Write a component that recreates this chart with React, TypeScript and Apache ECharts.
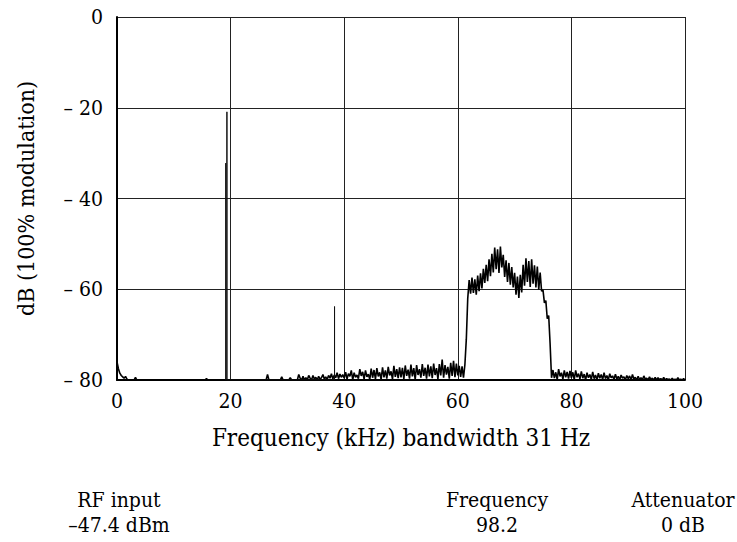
import React, { useEffect, useRef } from "react";
import * as echarts from "echarts";

// Spectrum trace, one value every freqStep kHz from 0 to 100 kHz (dB re 100% modulation)
const freqStep = 0.25;
const spectrumDb = [
  // 0 - 4.75
  -76, -77.5, -78.5, -79, -79.3, -79.6, -79.2, -79.8, -80, -80, -80, -80, -80, -79.4, -80, -80, -80, -80, -80, -80,
  // 5 - 9.75
  -80, -80, -80, -80, -80, -80, -80, -80, -80, -80, -80, -80, -80, -80, -80, -80, -80, -80, -80, -80,
  // 10 - 14.75
  -80, -80, -80, -80, -80, -80, -80, -80, -80, -80, -80, -80, -80, -80, -80, -80, -80, -80, -80, -80,
  // 15 - 19.75
  -80, -80, -80, -79.7, -80, -80, -80, -80, -80, -80, -80, -80, -80, -80, -80, -80, -80, -80, -80, -80,
  // 20 - 24.75
  -80, -80, -80, -80, -80, -80, -80, -80, -80, -80, -80, -80, -80, -80, -80, -80, -80, -80, -80, -80,
  // 25 - 29.75
  -80, -80, -80, -80, -80, -80, -78.8, -80, -80, -80, -80, -80, -80, -80, -80, -80, -79.3, -80, -80, -80,
  // 30 - 34.75
  -80, -80, -79.5, -80, -80, -80, -80, -80, -78.8, -79.6, -80, -79.2, -80, -79.5, -80, -79, -79.6, -80, -79, -79.8,
  // 35 - 39.75
  -79.4, -80, -79.2, -79.8, -79.5, -78.8, -79.8, -79.3, -79.9, -79, -79.6, -78.6, -79.8, -78.9, -79.5, -78.4, -79.7, -78.7, -79.4, -78.8,
  // 40 - 44.75
  -79.6, -78.3, -79.8, -78.6, -79.2, -77.9, -79.9, -78.4, -79.4, -78.9, -79.7, -77.6, -79.1, -78.2, -79.8, -77.9, -79.3, -78.7, -79.9, -77.5,
  // 45 - 49.75
  -79.5, -77.8, -79.8, -77.4, -79.2, -78.3, -79.9, -77.2, -79.4, -77.9, -79.7, -77.1, -79, -78.1, -79.8, -76.9, -79.3, -77.6, -79.6, -77.2,
  // 50 - 54.75
  -79.4, -77.3, -79.8, -76.8, -79.1, -77.7, -79.7, -76.6, -79.2, -77.4, -79.9, -76.7, -78.9, -77.6, -79.5, -76.5, -79.1, -77.3, -79.7, -76.6,
  // 55 - 59.75
  -79.2, -77, -79.6, -76.4, -78.9, -77.4, -79.8, -76.5, -79, -75.5, -79.5, -76.7, -78.8, -77.1, -79.7, -76.2, -79.1, -75.8, -79.4, -76.4,
  // 60 - 64.75
  -79, -76.9, -79.3, -77, -79.5, -76.6, -71, -62, -58, -61, -57.4, -60.8, -57.8, -61.2, -57, -60.4, -56.5, -59.8, -55.5, -58.6,
  // 65 - 69.75
  -54.6, -58.2, -53.4, -57.1, -52.2, -56.3, -50.8, -55.6, -51.2, -56.4, -50.6, -55.2, -52.4, -57.3, -53.6, -58.4, -54.2, -59, -55.1, -59.6,
  // 70 - 74.75
  -56.4, -61.2, -57.2, -61.9, -56.8, -60.7, -54.6, -59.2, -53.2, -58.4, -53.8, -59.5, -53.4, -58.8, -54.7, -59.6, -55, -60.1, -56.3, -60.4,
  // 75 - 79.75
  -60.2, -63, -62.5, -66.5, -65.8, -72, -79.5, -77.8, -79.6, -78.3, -79.9, -77.6, -79.2, -78.4, -79.8, -77.9, -79.4, -78.2, -79.7, -78,
  // 80 - 84.75
  -79.5, -78.3, -79.9, -77.9, -79.4, -78.6, -79.8, -78.1, -79.6, -78.7, -80, -78.4, -79.5, -78.8, -79.9, -78.2, -79.7, -78.9, -80, -78.5,
  // 85 - 89.75
  -79.6, -78.8, -79.9, -78.4, -79.7, -79, -80, -78.6, -79.5, -79.1, -79.9, -78.7, -79.8, -79.2, -80, -78.9, -79.6, -79.3, -80, -79,
  // 90 - 94.75
  -79.7, -79.1, -80, -78.8, -79.8, -79.4, -80, -79.2, -79.9, -79.5, -80, -79.1, -79.8, -79.6, -80, -79.3, -79.9, -79.6, -80, -79.4,
  // 95 - 99.75
  -80, -79.5, -79.9, -79.7, -80, -79.4, -80, -79.7, -79.9, -79.8, -80, -79.6, -80, -79.8, -80, -79.5, -80, -79.8, -80, -79.7,
  // 100
  -80,
];

// Discrete spectral lines (kHz, dB)
const spikeFreqs = [19.15, 19.35, 38.3];
const spikeDb = [-32.2, -20.9, -63.8];

const floorDb = -80;

// Bottom information block
const infoLabels = ["RF input", "Frequency", "Attenuator"];
const infoValues = ["\u201347.4 dBm", "98.2", "0 dB"];
const infoCenters = [119, 497, 683];

const xAxisName = "Frequency (kHz) bandwidth 31 Hz";
const yAxisName = "dB (100% modulation)";

const FONT = "DejaVu Serif Condensed, DejaVu Serif";

export default function App() {
  const ref = useRef<HTMLDivElement>(null);

  useEffect(() => {
    if (!ref.current) return;
    const chart = echarts.init(ref.current, null, { renderer: "svg" });

    const traceData = spectrumDb.map((v, i) => [i * freqStep, v]);
    const spikeData: any[] = [];
    spikeFreqs.forEach((f, i) => {
      spikeData.push([f, floorDb]);
      spikeData.push([f, spikeDb[i]]);
      spikeData.push([f, floorDb]);
    });

    const textStyle = (fontSize: number) => ({
      fontFamily: FONT,
      fontSize,
      fill: "#000",
      textAlign: "center",
      textVerticalAlign: "middle",
    });

    const graphics: any[] = [];
    infoLabels.forEach((t, i) => {
      graphics.push({ type: "text", x: infoCenters[i], y: 500, style: { text: t, ...textStyle(21) } });
      graphics.push({ type: "text", x: infoCenters[i], y: 525, style: { text: infoValues[i], ...textStyle(21) } });
    });

    chart.setOption({
      animation: false,
      backgroundColor: "#fff",
      grid: { left: 117, right: 52, top: 17, bottom: 162, containLabel: false },
      xAxis: {
        type: "value",
        min: 0,
        max: 100,
        interval: 20,
        name: xAxisName,
        nameLocation: "middle",
        nameGap: 46,
        nameTextStyle: { fontFamily: FONT, fontSize: 24, color: "#000" },
        axisLine: { show: true, onZero: false, lineStyle: { color: "#000", width: 2 } },
        axisTick: { show: false },
        axisLabel: { fontFamily: FONT, fontSize: 21, color: "#000", margin: 10 },
        splitLine: { show: true, lineStyle: { color: "#222", width: 1 } },
      },
      yAxis: {
        type: "value",
        min: -80,
        max: 0,
        interval: 20,
        name: yAxisName,
        nameLocation: "middle",
        nameGap: 80,
        nameTextStyle: { fontFamily: FONT, fontSize: 23, color: "#000" },
        axisLine: { show: true, onZero: false, lineStyle: { color: "#000", width: 2 } },
        axisTick: { show: false },
        axisLabel: {
          fontFamily: FONT,
          fontSize: 21,
          color: "#000",
          margin: 14,
          formatter: (v: number) => (v === 0 ? "0" : "\u2013 " + Math.abs(v)),
        },
        splitLine: { show: true, lineStyle: { color: "#222", width: 1 } },
      },
      series: [
        {
          type: "line",
          data: traceData,
          symbol: "none",
          silent: true,
          lineStyle: { color: "#000", width: 1.6 },
        },
        {
          type: "line",
          data: spikeData,
          symbol: "none",
          silent: true,
          lineStyle: { color: "#111", width: 1 },
        },
      ],
      graphic: graphics,
    });

    return () => chart.dispose();
  }, []);

  return (
    <div
      ref={ref}
      style={{ position: "absolute", left: 0, top: 0, width: 737, height: 542, background: "#fff" }}
    />
  );
}
